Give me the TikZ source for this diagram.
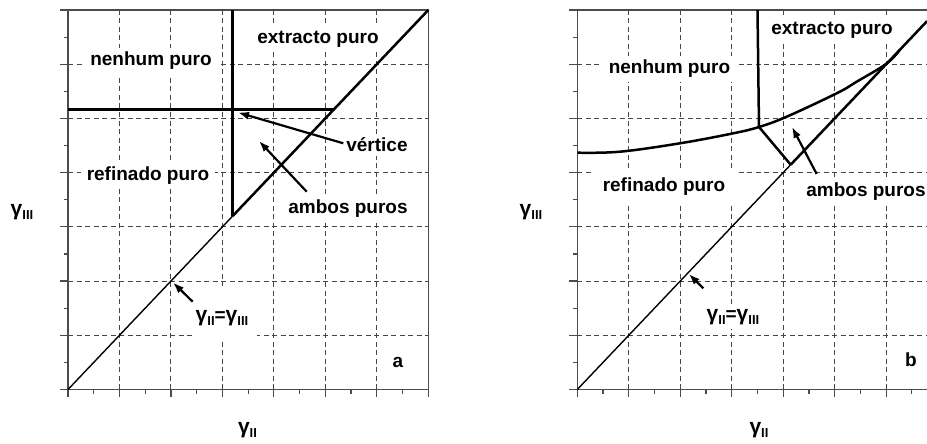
\documentclass[tikz,border=0pt]{standalone}
\usepackage{fontspec}
\setmainfont{Liberation Sans}
\usetikzlibrary{arrows.meta}
\newcommand{\mygam}[1]{{\fontsize{21}{22}\selectfont γ}\raisebox{-4.5pt}{\fontsize{13}{13}\selectfont #1}}
\begin{document}
\begin{tikzpicture}[x=1pt,y=-1pt,
  gridline/.style={gray!55!black, line width=0.9pt, dash pattern=on 5pt off 3.5pt},
  framel/.style={gray!60!black, line width=1.5pt},
  tickl/.style={gray!60!black, line width=1.2pt},
  thincurve/.style={black, line width=1.4pt},
  thickcurve/.style={black, line width=2.5pt},
  lbl/.style={font=\fontsize{19}{21}\selectfont\bfseries, fill=white, inner xsep=6pt, inner ysep=4pt},
  axlbl/.style={font=\fontsize{19}{21}\selectfont\bfseries, inner sep=1pt},
  pointer/.style={black, line width=2.2pt, -{Latex[length=11pt,width=8pt]}}]
\useasboundingbox (0,0) rectangle (927,444);
\fill[white] (0,0) rectangle (927,444);

% ---------- grids ----------
\foreach \k in {1,...,6} {
  \draw[gridline] ({68+\k*51.47},10) -- ({68+\k*51.47},389.5);
  \draw[gridline] (68,{389.5-\k*54.21}) -- (428.3,{389.5-\k*54.21});
  \draw[gridline] ({577.3+\k*51.47},10) -- ({577.3+\k*51.47},389.5);
  \draw[gridline] (577.3,{389.5-\k*54.21}) -- (927,{389.5-\k*54.21});
}

% ---------- labels (white boxes) ----------
\node[lbl] (lext) at (318,39) {extracto puro};
\node[lbl] (lnen) at (151,61) {nenhum puro};
\node[lbl] (lref) at (148,176) {refinado puro};
\node[lbl] (lver) at (377,145) {vértice};
\node[lbl] (lamb) at (348,209) {ambos puros};
\fill[white] (193,286) rectangle (257,339);
\node[lbl, fill=none] (lgam) at (222,318) {\mygam{II}=\mygam{III}};
\node[lbl] (la) at (398,362) {a};

\node[lbl] (rext) at (832,30) {extracto puro};
\node[lbl, inner xsep=9pt] (rnen) at (669.5,69) {nenhum puro};
\node[lbl, inner xsep=10pt, inner ysep=8pt] (rref) at (664,186.5) {refinado puro};
\node[lbl] (ramb) at (866,192) {ambos puros};
\node[lbl] (rgam) at (733,317) {\mygam{II}=\mygam{III}};
\node[lbl] (rb) at (911,360) {b};

\node[axlbl] (lyl) at (22,212) {\mygam{III}};
\node[axlbl] (lxl) at (247.5,430) {\mygam{II}};
\node[axlbl] (ryl) at (531,212) {\mygam{III}};
\node[axlbl] (rxl) at (759,430) {\mygam{II}};

% ---------- frames and ticks ----------
\draw[framel] (68,10) rectangle (428.3,389.5);
\draw[framel] (927,10) -- (577.3,10) -- (577.3,389.5) -- (927,389.5);
\foreach \k in {0,...,14} {
  \pgfmathsetmacro\tl{mod(\k,2)==0 ? 8 : 4}
  \pgfmathsetmacro\tb{mod(\k,2)==0 ? 7 : 4}
  \draw[tickl] (68,{389.5-\k*27.105}) -- ++(-\tl,0);
  \draw[tickl] (577.3,{389.5-\k*27.105}) -- ++(-\tl,0);
  \draw[tickl] ({68+\k*25.735},389.5) -- ++(0,\tb);
}
\foreach \k in {0,...,13} {
  \pgfmathsetmacro\tb{mod(\k,2)==0 ? 7 : 4}
  \draw[tickl] ({577.3+\k*25.735},389.5) -- ++(0,\tb);
}

% ---------- plot a ----------
\coordinate (aO) at (68,389.5);
\coordinate (aD) at (232.3,216.4);
\coordinate (aE) at (428.3,10);
\coordinate (aT) at (232.3,10);
\coordinate (aL) at (68,109.3);
\coordinate (aR) at (334,109.3);
\draw[thincurve] (aO) -- (aD);
\draw[thickcurve] (aD) -- (aE);
\draw[thickcurve] (aT) -- (aD);
\draw[thickcurve] (aL) -- (aR);
\coordinate (aV1) at (343.3,143.3); \coordinate (aV2) at (238,112.5);
\coordinate (aA1) at (306.7,191.7); \coordinate (aA2) at (259,141);
\coordinate (aG1) at (192.7,301.7); \coordinate (aG2) at (173,282.5);
\draw[pointer] (aV1) -- (aV2);
\draw[pointer] (aA1) -- (aA2);
\draw[pointer] (aG1) -- (aG2);

% ---------- plot b ----------
\coordinate (bO) at (577.3,389.5);
\coordinate (bD) at (790.7,164.7);
\coordinate (bE) at (927,21.2);
\coordinate (bT) at (757.5,10);
\coordinate (bV) at (759,127);
\draw[thincurve] (bO) -- (bD);
\draw[thickcurve] (bD) -- (bE);
\draw[thickcurve] (bT) -- (bV) -- (bD);
\draw[thickcurve] plot[smooth, tension=0.6] coordinates {(577.3,152.7) (620,151.7) (680,143.3) (733.3,133.3) (759,127) (786.7,116.7) (836.7,93.3) (856.7,81.7) (886.7,63.5) (900,49.6)};
\coordinate (bA1) at (816.7,174); \coordinate (bA2) at (792,127);
\coordinate (bG1) at (703.3,288.3); \coordinate (bG2) at (688.8,274);
\draw[pointer] (bA1) -- (bA2);
\draw[pointer] (bG1) -- (bG2);
\end{tikzpicture}
\end{document}
